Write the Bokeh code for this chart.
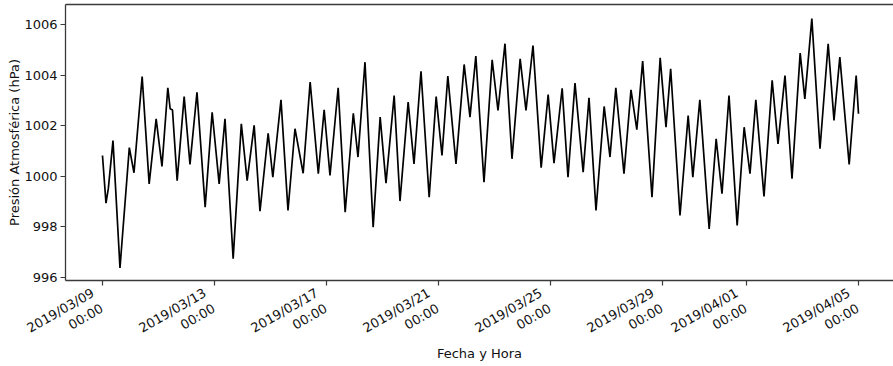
import pandas as pd
from math import pi
from bokeh.plotting import figure
from bokeh.models import FixedTicker, Range1d, LinearAxis, CustomJSTickFormatter
from bokeh.embed import file_html
from bokeh.resources import INLINE

# ---- data (hours after 2019/03/09 00:00, hPa) ----
START = "2019-03-09 00:00"
hours = [0, 3, 5, 9, 15, 23, 27, 34, 40, 46, 51, 56, 58, 60, 64, 70, 75, 81, 88, 94,
         100, 105, 112, 119, 124, 130, 135, 142, 146, 153, 159, 165, 172, 178, 185, 190,
         195, 202, 208, 215, 219, 225, 232, 238, 243, 250, 255, 262, 267, 273, 280, 286,
         291, 296, 303, 310, 315, 320, 327, 334, 339, 345, 351, 358, 363, 369, 376, 382,
         387, 394, 399, 405, 412, 417, 423, 430, 435, 440, 447, 453, 458, 463, 471, 478,
         483, 487, 495, 502, 506, 512, 520, 526, 531, 537, 544, 550, 555, 560, 567, 574,
         579, 585, 591, 598, 602, 608, 615, 622, 627, 632, 640, 646, 648]
pressure = [1000.82, 998.94, 999.51, 1001.41, 996.38, 1001.13, 1000.14, 1003.94, 999.70, 1002.27,
            1000.39, 1003.50, 1002.67, 1002.62, 999.83, 1003.15, 1000.47, 1003.32, 998.78, 1002.53,
            999.70, 1002.27, 996.74, 1002.07, 999.83, 1002.01, 998.62, 1001.70, 999.96, 1003.02,
            998.65, 1001.88, 1000.12, 1003.72, 1000.10, 1002.63, 1000.03, 1003.50, 998.58, 1002.49,
            1000.76, 1004.51, 997.99, 1002.34, 999.73, 1003.19, 999.02, 1002.93, 1000.49, 1004.15,
            999.17, 1003.15, 1000.82, 1003.96, 1000.49, 1004.42, 1002.34, 1004.75, 999.77, 1004.60,
            1002.60, 1005.24, 1000.69, 1004.64, 1002.60, 1005.17, 1000.34, 1003.23, 1000.52, 1003.48,
            999.96, 1003.68, 1000.16, 1003.10, 998.65, 1002.76, 1000.76, 1003.50, 1000.10, 1003.42,
            1001.84, 1004.55, 999.17, 1004.68, 1001.94, 1004.25, 998.45, 1002.40, 999.96, 1003.02,
            997.92, 1001.48, 999.31, 1003.19, 998.06, 1001.94, 1000.10, 1003.02, 999.20, 1003.79,
            1001.28, 1003.98, 999.90, 1004.87, 1003.06, 1006.23, 1001.09, 1005.24, 1002.21, 1004.71,
            1000.47, 1003.98, 1002.47]
x_tick_dates = ["2019-03-09", "2019-03-13", "2019-03-17", "2019-03-21",
                "2019-03-25", "2019-03-29", "2019-04-01", "2019-04-05"]
y_ticks = [996, 998, 1000, 1002, 1004, 1006]
x_label = "Fecha y Hora"
y_label = "Presión Atmosférica (hPa)"

t0 = pd.Timestamp(START)
times = [t0 + pd.Timedelta(hours=h) for h in hours]
x_tick_ms = [pd.Timestamp(d).value / 1e6 for d in x_tick_dates]

FONT = "DejaVu Sans"
SPINE = "#3a3a3a"
TXT = "#111111"
FS = "13px"
Y0, Y1 = 995.88, 1006.79
# matplotlib right-aligned rotated labels sit slightly left of their tick
LABEL_SHIFT_MS = 4.3 * 3600 * 1000

p = figure(width=893, height=366, x_axis_type="datetime",
           output_backend="svg", toolbar_location=None,
           x_range=Range1d(t0 - pd.Timedelta(hours=31.7), t0 + pd.Timedelta(hours=678)),
           y_range=Range1d(Y0, Y1),
           min_border_left=65, min_border_right=0, min_border_top=4, min_border_bottom=86,
           background_fill_color="white", border_fill_color="white")

p.line(times, pressure, line_color="black", line_width=1.7)

p.xgrid.visible = False
p.ygrid.visible = False
p.outline_line_color = None

xa = p.below[0]
ya = p.left[0]

# top spine only (no right spine visible in the reference)
top = LinearAxis(ticker=FixedTicker(ticks=[]), formatter=CustomJSTickFormatter(code="return ''"),
                 axis_line_color=SPINE, axis_line_width=1.3, major_tick_out=0, major_tick_in=0,
                 minor_tick_out=0, minor_tick_in=0, major_label_standoff=0,
                 major_label_text_font_size="0px")
p.add_layout(top, "above")

# bottom spine + tick marks at the true dates
xa.ticker = FixedTicker(ticks=x_tick_ms)
xa.formatter = CustomJSTickFormatter(code="return ''")
xa.major_label_standoff = 0
xa.major_label_text_font_size = "0px"

ya.ticker = FixedTicker(ticks=y_ticks)
ya.axis_label = y_label
ya.major_label_text_font = FONT
ya.major_label_text_color = TXT
ya.major_label_text_font_size = FS
ya.major_label_standoff = 3
ya.axis_label_standoff = -1

for ax in (xa, ya):
    ax.axis_line_color = SPINE
    ax.axis_line_width = 1.3
    ax.major_tick_line_color = SPINE
    ax.major_tick_line_width = 1.2
    ax.major_tick_out = 5
    ax.major_tick_in = 0
    ax.minor_tick_line_color = None
    ax.axis_label_text_font = FONT
    ax.axis_label_text_font_style = "normal"
    ax.axis_label_text_color = TXT
    ax.axis_label_text_font_size = FS

# rotated two-line date labels (matplotlib style: rotation=30, ha='right')
date_fmt = CustomJSTickFormatter(args=dict(shift=LABEL_SHIFT_MS), code="""
const d = new Date(Math.round(tick + shift));
const p2 = (n) => (n < 10 ? "0" : "") + n;
return d.getUTCFullYear() + "/" + p2(d.getUTCMonth() + 1) + "/" + p2(d.getUTCDate())
       + "\\n" + p2(d.getUTCHours()) + ":" + p2(d.getUTCMinutes());
""")
lab_axis = LinearAxis(ticker=FixedTicker(ticks=[t - LABEL_SHIFT_MS for t in x_tick_ms]),
                      formatter=date_fmt, axis_line_color=None,
                      major_tick_line_color=None, minor_tick_line_color=None,
                      major_tick_out=0, major_tick_in=0, minor_tick_out=0, minor_tick_in=0,
                      major_label_orientation=pi / 6, major_label_standoff=14,
                      major_label_text_font=FONT, major_label_text_font_size=FS,
                      major_label_text_color=TXT,
                      axis_label=x_label, axis_label_standoff=-23,
                      axis_label_text_font=FONT, axis_label_text_font_style="normal",
                      axis_label_text_color=TXT, axis_label_text_font_size=FS)
p.add_layout(lab_axis, "below")

open("out.html", "w").write(file_html(p, INLINE))
